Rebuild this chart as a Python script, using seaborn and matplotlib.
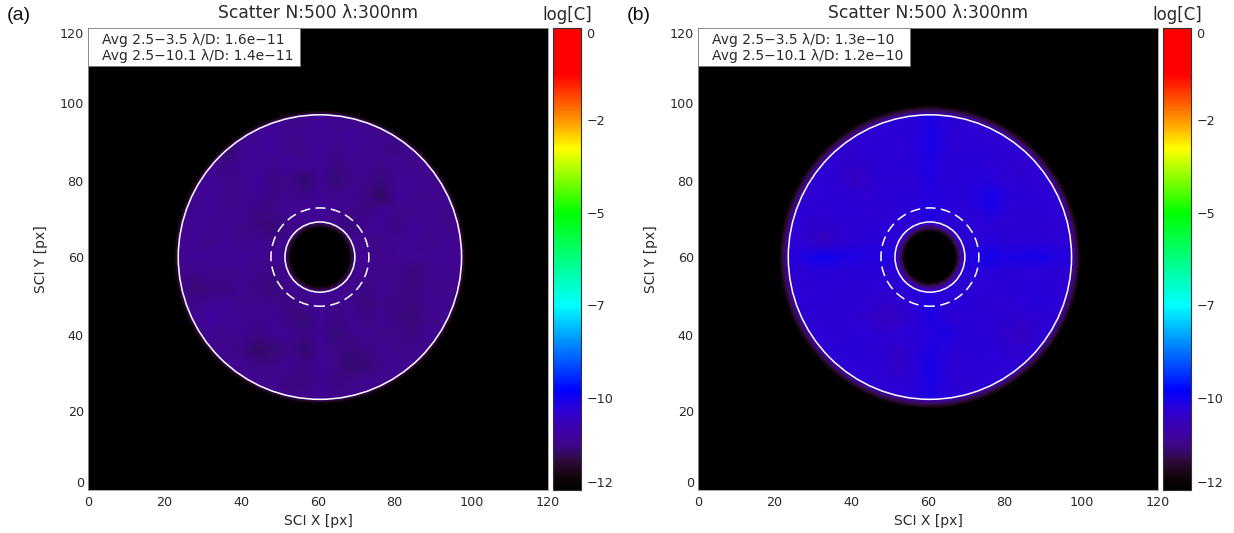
import numpy as np
import seaborn as sns
import matplotlib
matplotlib.use('Agg')
import matplotlib.pyplot as plt
from matplotlib.colors import LinearSegmentedColormap, Normalize
from matplotlib.transforms import Affine2D

# log contrast, one node every 4 px around the mask centre
scatter_a = [
    [-10.8,-10.8,-10.8,-10.8,-10.8,-10.8,-10.8,-10.8,-10.8,-10.8,-10.8,-10.8,-10.8,-10.8,-10.8,-10.8,-10.8,-10.8,-10.8,-10.8,-10.8],
    [-10.8,-10.8,-10.8,-10.8,-10.8,-10.8,-10.8,-10.75,-10.8,-10.8,-10.7,-10.8,-10.8,-10.8,-10.8,-10.8,-10.8,-10.8,-10.8,-10.8,-10.8],
    [-10.8,-10.8,-10.8,-10.8,-10.8,-10.8,-10.7,-10.65,-10.8,-10.75,-10.65,-10.75,-10.65,-10.75,-10.8,-10.8,-10.8,-10.8,-10.8,-10.8,-10.8],
    [-10.8,-10.8,-10.8,-10.8,-11.0,-10.75,-10.7,-10.65,-10.8,-10.8,-10.65,-10.8,-10.7,-10.75,-10.8,-10.85,-10.8,-10.8,-10.8,-10.8,-10.8],
    [-10.8,-10.8,-10.8,-10.75,-10.85,-10.7,-10.65,-10.8,-10.6,-10.75,-10.65,-10.85,-10.8,-10.75,-10.8,-10.75,-10.8,-10.8,-10.8,-10.8,-10.8],
    [-10.8,-10.8,-10.75,-10.7,-10.8,-10.75,-10.6,-10.85,-10.8,-11.0,-10.65,-10.95,-10.8,-10.8,-10.9,-10.75,-10.7,-10.8,-10.8,-10.8,-10.8],
    [-10.8,-10.8,-10.75,-10.7,-10.8,-10.8,-10.7,-10.85,-10.75,-10.85,-10.7,-10.8,-10.75,-10.85,-11.05,-10.7,-10.75,-10.8,-10.75,-10.8,-10.8],
    [-10.8,-10.8,-10.7,-10.7,-10.8,-10.75,-10.85,-10.8,-10.75,-10.7,-10.65,-10.75,-10.8,-10.85,-10.7,-10.8,-10.8,-10.75,-10.8,-10.8,-10.8],
    [-10.8,-10.75,-10.65,-10.8,-10.75,-10.8,-10.9,-10.95,-10.8,-10.8,-10.7,-10.8,-10.9,-10.75,-10.7,-10.85,-10.65,-10.75,-10.8,-10.8,-10.8],
    [-10.8,-10.75,-10.75,-10.8,-10.7,-10.8,-10.75,-10.8,-10.75,-10.8,-10.75,-10.8,-10.75,-10.8,-10.8,-10.75,-10.7,-10.8,-10.75,-10.75,-10.8],
    [-10.8,-10.75,-10.7,-10.7,-10.65,-10.7,-10.75,-10.75,-10.7,-10.8,-10.8,-10.8,-10.75,-10.75,-10.8,-10.75,-10.75,-10.75,-10.7,-10.75,-10.8],
    [-10.8,-10.8,-10.8,-10.75,-10.8,-10.75,-10.8,-10.85,-10.75,-10.8,-10.75,-10.8,-10.8,-10.75,-10.8,-10.8,-10.9,-10.8,-10.75,-10.8,-10.8],
    [-10.8,-10.85,-10.95,-10.85,-10.85,-10.75,-10.85,-10.9,-10.8,-10.75,-10.7,-10.75,-10.8,-10.85,-10.75,-10.8,-10.85,-10.8,-10.8,-10.8,-10.8],
    [-10.8,-10.8,-10.8,-10.65,-10.7,-10.8,-10.75,-10.8,-10.85,-10.8,-10.7,-10.8,-10.75,-10.9,-10.8,-10.85,-10.9,-10.75,-10.75,-10.8,-10.8],
    [-10.8,-10.8,-10.7,-10.6,-10.7,-10.75,-10.8,-10.7,-10.85,-10.95,-10.65,-10.85,-10.75,-10.85,-10.75,-10.85,-10.95,-10.8,-10.8,-10.8,-10.8],
    [-10.8,-10.8,-10.8,-10.75,-10.8,-10.7,-10.85,-10.7,-10.75,-10.85,-10.65,-10.95,-10.8,-10.75,-10.8,-10.8,-10.85,-10.75,-10.8,-10.8,-10.8],
    [-10.8,-10.8,-10.8,-10.8,-10.8,-10.85,-11.05,-10.95,-10.8,-11.0,-10.7,-10.8,-10.9,-10.85,-10.75,-10.8,-10.8,-10.8,-10.8,-10.8,-10.8],
    [-10.8,-10.8,-10.8,-10.8,-10.75,-10.75,-10.85,-10.8,-10.75,-10.85,-10.7,-10.8,-11.0,-10.95,-10.8,-10.75,-10.8,-10.8,-10.8,-10.8,-10.8],
    [-10.8,-10.8,-10.8,-10.8,-10.8,-10.8,-10.75,-10.8,-10.85,-10.9,-10.7,-10.85,-10.8,-10.75,-10.8,-10.8,-10.8,-10.8,-10.8,-10.8,-10.8],
    [-10.8,-10.8,-10.8,-10.8,-10.8,-10.8,-10.8,-10.8,-10.8,-10.8,-10.7,-10.8,-10.8,-10.8,-10.8,-10.8,-10.8,-10.8,-10.8,-10.8,-10.8],
    [-10.8,-10.8,-10.8,-10.8,-10.8,-10.8,-10.8,-10.8,-10.8,-10.8,-10.8,-10.8,-10.8,-10.8,-10.8,-10.8,-10.8,-10.8,-10.8,-10.8,-10.8],
]
scatter_b = [
    [-9.9,-9.9,-9.9,-9.9,-9.9,-9.9,-9.9,-9.9,-9.9,-9.9,-9.9,-9.9,-9.9,-9.9,-9.9,-9.9,-9.9,-9.9,-9.9,-9.9,-9.9],
    [-9.9,-9.9,-9.9,-9.9,-9.9,-9.9,-9.9,-9.95,-9.9,-9.9,-9.75,-9.9,-9.95,-9.9,-9.9,-9.9,-9.9,-9.9,-9.9,-9.9,-9.9],
    [-9.9,-9.9,-9.9,-9.9,-9.9,-9.95,-9.95,-9.9,-9.9,-9.85,-9.7,-9.85,-9.9,-9.9,-9.95,-9.9,-9.9,-9.9,-9.9,-9.9,-9.9],
    [-9.9,-9.9,-9.9,-9.9,-10.0,-9.95,-9.9,-9.9,-9.95,-9.85,-9.7,-9.85,-9.9,-9.9,-9.9,-9.95,-9.9,-9.9,-9.9,-9.9,-9.9],
    [-9.9,-9.9,-9.9,-9.95,-9.95,-10.05,-9.95,-9.9,-9.9,-9.85,-9.75,-9.9,-9.9,-9.85,-9.9,-9.95,-10.0,-9.9,-9.9,-9.9,-9.9],
    [-9.9,-9.9,-9.95,-9.9,-9.95,-10.15,-9.95,-9.9,-9.95,-9.9,-9.75,-9.9,-9.85,-9.85,-9.85,-9.9,-9.95,-9.95,-9.9,-9.9,-9.9],
    [-9.9,-9.9,-9.95,-9.9,-9.9,-9.95,-9.95,-9.9,-9.9,-9.85,-9.8,-9.85,-9.85,-9.8,-9.65,-9.85,-9.9,-9.9,-9.95,-9.9,-9.9],
    [-9.9,-9.9,-9.9,-9.95,-9.9,-9.9,-9.95,-9.95,-9.9,-9.85,-9.75,-9.85,-9.9,-9.85,-9.75,-9.9,-9.95,-9.9,-9.9,-9.9,-9.9],
    [-9.9,-9.9,-9.95,-10.05,-9.95,-9.95,-9.9,-9.9,-9.9,-9.9,-9.85,-9.9,-9.9,-9.9,-9.9,-9.95,-9.9,-9.95,-9.95,-9.9,-9.9],
    [-9.9,-9.9,-10.0,-10.2,-9.95,-9.9,-9.9,-9.85,-9.9,-9.9,-9.9,-9.9,-9.9,-9.85,-9.85,-9.9,-9.9,-9.9,-9.9,-9.9,-9.9],
    [-9.9,-9.8,-9.75,-9.6,-9.7,-9.75,-9.8,-9.75,-9.8,-9.85,-9.9,-9.85,-9.8,-9.7,-9.65,-9.75,-9.7,-9.7,-9.75,-9.8,-9.9],
    [-9.9,-9.95,-9.9,-9.85,-9.9,-9.9,-9.85,-9.9,-9.9,-9.9,-9.9,-9.9,-9.9,-9.85,-9.85,-9.9,-9.9,-9.9,-9.9,-9.95,-9.9],
    [-9.9,-9.95,-9.95,-9.9,-9.9,-9.95,-9.9,-9.9,-9.9,-9.85,-9.85,-9.85,-9.9,-9.9,-9.9,-9.9,-9.85,-9.85,-9.9,-9.9,-9.9],
    [-9.9,-9.9,-9.9,-9.9,-9.95,-9.9,-9.95,-10.05,-9.95,-9.9,-9.75,-9.9,-9.85,-9.9,-9.95,-9.95,-9.9,-9.85,-9.85,-9.9,-9.9],
    [-9.9,-9.9,-9.9,-9.95,-9.9,-9.95,-10.0,-10.2,-10.05,-9.95,-9.75,-9.85,-9.9,-9.9,-9.9,-9.95,-10.0,-9.95,-9.95,-9.9,-9.9],
    [-9.9,-9.9,-9.9,-9.9,-9.95,-9.9,-9.9,-9.95,-9.9,-9.85,-9.8,-9.75,-9.85,-9.9,-9.9,-10.0,-10.15,-9.95,-9.9,-9.9,-9.9],
    [-9.9,-9.9,-9.9,-9.9,-9.9,-9.85,-9.9,-9.95,-10.05,-9.9,-9.75,-9.85,-9.9,-9.9,-9.85,-9.95,-10.0,-9.9,-9.9,-9.9,-9.9],
    [-9.9,-9.9,-9.9,-9.9,-9.9,-9.9,-9.9,-9.95,-10.1,-9.9,-9.7,-9.85,-9.9,-9.9,-9.9,-9.9,-9.9,-9.9,-9.9,-9.9,-9.9],
    [-9.9,-9.9,-9.9,-9.9,-9.9,-9.95,-9.9,-9.9,-9.95,-9.85,-9.7,-9.85,-9.95,-9.9,-9.9,-9.9,-9.9,-9.9,-9.9,-9.9,-9.9],
    [-9.9,-9.9,-9.9,-9.9,-9.9,-9.9,-9.9,-9.95,-9.9,-9.9,-9.75,-9.9,-9.9,-9.95,-9.9,-9.9,-9.9,-9.9,-9.9,-9.9,-9.9],
    [-9.9,-9.9,-9.9,-9.9,-9.9,-9.9,-9.9,-9.9,-9.9,-9.9,-9.9,-9.9,-9.9,-9.9,-9.9,-9.9,-9.9,-9.9,-9.9,-9.9,-9.9],
]

# falloff outside the outer mask and inside the inner mask (radius px, log contrast)
glow_radii_a = [38.2, 37.9, 37.6, 37.3]
glow_levels_a = [-11.85, -11.6, -11.3, -11.0]
glow_radii_b = [39.4, 39.0, 38.6, 38.2, 37.8, 37.4]
glow_levels_b = [-11.8, -11.5, -11.25, -11.05, -10.85, -10.6]
hole_radii_a = [9.0, 8.7, 8.4, 8.1, 7.8, 7.5]
hole_levels_a = [-10.95, -11.15, -11.35, -11.55, -11.8, -12.0]
hole_radii_b = [8.8, 8.4, 8.0, 7.6, 7.2, 6.9, 6.6]
hole_levels_b = [-10.2, -10.6, -10.95, -11.2, -11.45, -11.75, -12.0]

titles = ['Scatter N:500 λ:300nm', 'Scatter N:500 λ:300nm']
panel_tags = ['(a)', '(b)']
tag_x = [7, 627]
avg_lines = [
    ['Avg 2.5−3.5 λ/D: 1.6e−11', 'Avg 2.5−10.1 λ/D: 1.4e−11'],
    ['Avg 2.5−3.5 λ/D: 1.3e−10', 'Avg 2.5−10.1 λ/D: 1.2e−10'],
]
axis_ticks = [0, 20, 40, 60, 80, 100, 120]
cbar_ticks = [-12, -9.6, -7.2, -4.8, -2.4, 0]
cbar_minor = [-10.8, -8.4, -6, -3.6, -1.2]
cbar_labels = ['−12', '−10', '−7', '−5', '−2', '0']

centre = 60.5
r_inner = 9.12
r_dash = 12.77
r_outer = 36.95

W, H = 1234, 533
ink = '#2a2a2a'

sns.set_theme(style='white')
plt.rcParams['font.family'] = ['DejaVu Sans']

contrast_cmap = LinearSegmentedColormap.from_list('contrast', [
    (0.0, '#000000'), (0.03, '#14060f'), (0.06, '#2e0a38'), (0.085, '#360a74'), (0.1, '#40058f'),
    (0.14, '#3a00b4'), (0.175, '#2a00d8'), (0.215, '#0000ff'), (0.4, '#00ffff'),
    (0.6, '#00ff00'), (0.74, '#ffff00'), (0.8, '#ff9800'), (0.9, '#ff0000'),
    (1.0, '#ff0000')])
norm = Normalize(-12, 0)

fig = plt.figure(figsize=(W / 100, H / 100), dpi=100)


def px_axes(x0, y0, x1, y1):
    return fig.add_axes([x0 / W, 1 - y1 / H, (x1 - x0) / W, (y1 - y0) / H])


panels = [
    (88, scatter_a, glow_radii_a, glow_levels_a, hole_radii_a, hole_levels_a),
    (698, scatter_b, glow_radii_b, glow_levels_b, hole_radii_b, hole_levels_b),
]

for n, (left, patch, glow_r, glow_v, hole_r, hole_v) in enumerate(panels):
    ax = px_axes(left, 28, left + 460, 490)
    cax = px_axes(left + 465, 28, left + 493, 490)

    # the typed patch sits in the middle of a black 31x31 frame
    grid = np.pad(np.array(patch), 5, constant_values=-12)
    sns.heatmap(grid, ax=ax, cbar_ax=cax, cmap=contrast_cmap, vmin=-12, vmax=0,
                shading='gouraud', cbar_kws={'ticks': cbar_ticks})

    mesh = ax.collections[0]
    mesh.set_transform(Affine2D().scale(4, -4).translate(0.5, 120.5) + ax.transData)
    ax.set_xlim(0, 120)
    ax.set_ylim(0, 120)
    ax.set_facecolor('black')
    mesh.set_zorder(2)
    mesh.set_clip_path(plt.Circle((centre, centre), r_outer + 0.2, transform=ax.transData))

    for r, v in zip(glow_r, glow_v):
        ax.add_patch(plt.Circle((centre, centre), r, fc=contrast_cmap(norm(v)), ec='none', zorder=1))
    for r, v in zip(hole_r, hole_v):
        ax.add_patch(plt.Circle((centre, centre), r, fc=contrast_cmap(norm(v)), ec='none', zorder=3))

    ax.add_patch(plt.Circle((centre, centre), r_outer, fc='none', ec='white', lw=1.1, zorder=4))
    ax.add_patch(plt.Circle((centre, centre), r_inner, fc='none', ec='white', lw=1.1, zorder=4))
    ax.add_patch(plt.Circle((centre, centre), r_dash, fc='none', ec='white', lw=1.1,
                            ls=(3.27, (6.55, 3.5)), zorder=4))

    ax.set_xticks(axis_ticks)
    ax.set_xticklabels(axis_ticks, rotation=0)
    ax.set_yticks(axis_ticks)
    ax.set_yticklabels(axis_ticks, rotation=0)
    ax.tick_params(length=0, labelsize=9.2, labelcolor=ink, pad=4)
    ax.tick_params(axis='y', pad=3)
    ylabels = ax.get_yticklabels()
    ylabels[0].set_va('bottom')
    ylabels[-1].set_va('top')
    for s in ax.spines.values():
        s.set_visible(True)
        s.set_color('#999999')
        s.set_linewidth(0.6)

    # white box with the averages
    ax.add_patch(plt.Rectangle((0, 110.2), 55.4, 9.8, fc='white', ec='#777777', lw=0.5, zorder=5))
    for k, line in enumerate(avg_lines[n]):
        ax.text(3.6, 117.0 - 4.2 * k, line, fontsize=10, color=ink, va='center', zorder=6)

    cbar = mesh.colorbar
    cbar.outline.set_linewidth(0.8)
    cbar.outline.set_edgecolor('#333333')
    cbar.set_ticks(cbar_ticks, labels=cbar_labels)
    cbar.set_ticks(cbar_minor, minor=True)
    cax.tick_params(which='major', direction='in', length=3.5, width=0.8, left=True, right=True,
                    color='#222222', labelsize=9.2, labelcolor=ink, pad=4)
    cax.tick_params(which='minor', direction='in', length=2, width=0.8, left=True, right=True,
                    color='#222222')
    clabels = cax.get_yticklabels()
    clabels[0].set_va('bottom')
    clabels[-1].set_va('top')

    fig.text((left + 230) / W, 1 - 13 / H, titles[n], fontsize=12.3, color=ink, ha='center', va='center')
    fig.text((left + 479) / W, 1 - 15 / H, 'log[C]', fontsize=12, color=ink, ha='center', va='center')
    fig.text((left + 230) / W, 1 - 521 / H, 'SCI X [px]', fontsize=10, color=ink, ha='center', va='center')
    fig.text((left - 47) / W, 1 - 259 / H, 'SCI Y [px]', fontsize=10, color=ink, ha='center', va='center',
             rotation=90)
    fig.text(tag_x[n] / W, 1 - 16 / H, panel_tags[n], fontsize=14, color='#111111', ha='left', va='center',
             family='Liberation Sans')

fig.savefig('out.png', dpi=100)
